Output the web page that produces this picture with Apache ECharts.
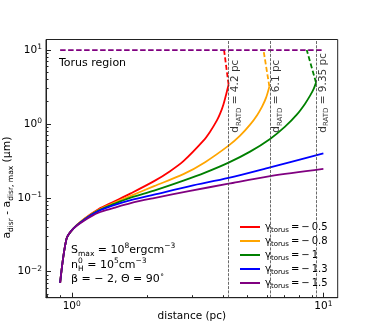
<!DOCTYPE html>
<html>
<head>
<meta charset="utf-8">
<script src="https://cdn.jsdelivr.net/npm/echarts@6/dist/echarts.min.js"></script>
<style>
html, body { margin: 0; padding: 0; background: #fff; }
#chart { width: 374px; height: 334px; }
</style>
</head>
<body>
<div id="chart"></div>
<script>
// values (distance in pc, grain size in micron)
const gammaValues = ['0.5', '0.8', '1', '1.3', '1.5'];
const lineColors = ['#ff0000', '#ffa500', '#008000', '#0000ff', '#800080'];

const redX = [0.899, 0.953, 1.012, 1.119, 1.276, 1.473, 1.716, 2.124, 2.459, 2.778, 3.336, 3.546, 3.770, 3.886, 4.004, 4.105, 4.2];
const redY = [0.00705, 0.0278, 0.0380, 0.0518, 0.0701, 0.0891, 0.1150, 0.1683, 0.2298, 0.3138, 0.5943, 0.7866, 1.108, 1.378, 1.825, 2.492, 3.40];
const orangeX = [0.899, 0.953, 1.012, 1.119, 1.276, 1.473, 1.716, 2.124, 2.778, 3.388, 4.2, 4.667, 5.113, 5.452, 5.706, 5.920, 6.1];
const orangeY = [0.00705, 0.0278, 0.0380, 0.0512, 0.0686, 0.0853, 0.1064, 0.1440, 0.2093, 0.3041, 0.5086, 0.6944, 0.978, 1.315, 1.714, 2.269, 3.20];
const greenX = [0.899, 0.953, 1.012, 1.119, 1.276, 1.473, 1.716, 2.124, 2.778, 3.388, 4.2, 5.113, 6.14, 7.042, 7.839, 8.458, 8.854, 9.141, 9.35];
const greenY = [0.00705, 0.0278, 0.0380, 0.0507, 0.0675, 0.0827, 0.1006, 0.1252, 0.1709, 0.2193, 0.2995, 0.4218, 0.6266, 0.9193, 1.336, 1.883, 2.415, 2.958, 3.622];
const blueX = [0.899, 0.953, 1.012, 1.119, 1.276, 1.473, 1.716, 2.124, 2.953, 4.2, 6.14, 10];
const blueY = [0.00705, 0.0278, 0.0380, 0.0502, 0.0661, 0.0796, 0.0931, 0.1105, 0.1442, 0.1859, 0.2587, 0.400];
const purpleX = [0.899, 0.953, 1.012, 1.119, 1.276, 1.473, 1.716, 2.124, 2.953, 4.2, 6.14, 10];
const purpleY = [0.00705, 0.0278, 0.0380, 0.0491, 0.0630, 0.0732, 0.0848, 0.0991, 0.1240, 0.1556, 0.1966, 0.246];

// dashed jumps up to the torus limit
const redDashX = [4.2, 4.03];
const redDashY = [3.40, 10];
const orangeDashX = [6.1, 5.78];
const orangeDashY = [3.20, 10];
const greenDashX = [9.35, 8.59];
const greenDashY = [3.622, 10];

const torusX = [0.899, 10];
const torusY = [10, 10];

const ratdDistances = [4.2, 6.1, 9.35];
const ratdLabelY = 0.76;

const xRange = [0.79, 11.4];
const yRange = [0.00445, 13.9];
const xMajorTicks = [1, 10];
const xMinorTicks = [0.8, 0.9, 2, 3, 4, 5, 6, 7, 8, 9];
const yMajorTicks = [0.01, 0.1, 1, 10];
const yMinorTicks = [0.005, 0.006, 0.007, 0.008, 0.009, 0.02, 0.03, 0.04, 0.05, 0.06, 0.07, 0.08, 0.09,
  0.2, 0.3, 0.4, 0.5, 0.6, 0.7, 0.8, 0.9, 2, 3, 4, 5, 6, 7, 8, 9];

const lg = Math.log10;
const FONT = 'DejaVu Sans';

function pairs(xs, ys) {
  return xs.map(function (x, i) { return [lg(x), lg(ys[i])]; });
}

function powLabel(v) {
  const e = Math.round(v);
  return '{b|10}{e|' + (e < 0 ? '\u2212' + (-e) : e) + '}';
}

const powRich = {
  b: { fontFamily: FONT, fontSize: 10.5, color: '#000', lineHeight: 14 },
  e: { fontFamily: FONT, fontSize: 7.5, color: '#000', lineHeight: 8, verticalAlign: 'top' }
};

const legendNames = gammaValues.map(function (g) { return 'gamma ' + g; });

const solidData = [
  pairs(redX, redY), pairs(orangeX, orangeY), pairs(greenX, greenY),
  pairs(blueX, blueY), pairs(purpleX, purpleY)
];

const series = [];
solidData.forEach(function (d, i) {
  series.push({
    type: 'line',
    name: legendNames[i],
    data: d,
    symbol: 'none',
    smooth: 0.3,
    color: lineColors[i],
    lineStyle: { width: 1.8, color: lineColors[i], join: 'round' },
    z: 3
  });
});

[[redDashX, redDashY, 0], [orangeDashX, orangeDashY, 1], [greenDashX, greenDashY, 2]].forEach(function (s) {
  series.push({
    type: 'line',
    data: pairs(s[0], s[1]),
    symbol: 'none',
    lineStyle: { width: 1.8, color: lineColors[s[2]], type: [5, 2.5] },
    z: 3
  });
});

series.push({
  type: 'line',
  data: pairs(torusX, torusY),
  symbol: 'none',
  lineStyle: { width: 1.8, color: lineColors[4], type: [5.5, 2.5] },
  z: 4
});

// d_RATD markers and their rotated labels
series.push({
  type: 'scatter',
  data: ratdDistances.map(function (d) { return [lg(d), lg(ratdLabelY)]; }),
  symbolSize: 0,
  silent: true,
  label: {
    show: true,
    position: 'right',
    distance: 7,
    rotate: 90,
    formatter: function (p) {
      return '{m|d}{s|RATD}{m| = ' + ratdDistances[p.dataIndex] + ' pc}';
    },
    rich: {
      m: { fontFamily: FONT, fontSize: 10.5, color: '#000', lineHeight: 14 },
      s: { fontFamily: FONT, fontSize: 7, color: '#000', lineHeight: 9, verticalAlign: 'bottom' }
    }
  },
  markLine: {
    silent: true,
    symbol: 'none',
    label: { show: false },
    lineStyle: { color: '#444', width: 0.8, type: [3, 1.3] },
    data: ratdDistances.map(function (d) { return { xAxis: lg(d) }; })
  }
});

const paramRich = {
  m: { fontFamily: FONT, fontSize: 11, fontWeight: 'normal', color: '#000', lineHeight: 16 },
  s: { fontFamily: FONT, fontSize: 7.5, fontWeight: 'normal', color: '#000', lineHeight: 10, verticalAlign: 'bottom' },
  p: { fontFamily: FONT, fontSize: 7.5, fontWeight: 'normal', color: '#000', lineHeight: 9, verticalAlign: 'top' },
  p0: { fontFamily: FONT, fontSize: 7.5, fontWeight: 'normal', color: '#000', lineHeight: 9, verticalAlign: 'top', width: 0.1, align: 'left' }
};

const option = {
  animation: false,
  backgroundColor: '#fff',
  title: [
    { text: 'Torus region', left: 59, top: 58, padding: 0,
      textStyle: { fontFamily: FONT, fontSize: 11, color: '#000', fontWeight: 'normal' } },
    { text: '{m|S}{s|max}{m| = 10}{p|8}{m|ergcm}{p|\u22123}', left: 71, top: 242, padding: 0,
      textStyle: { fontWeight: 'normal', rich: paramRich } },
    { text: '{m|n}{p0|0}{s|H}{m| = 10}{p|5}{m|cm}{p|\u22123}', left: 71, top: 257, padding: 0,
      textStyle: { fontWeight: 'normal', rich: paramRich } },
    { text: '{m|\u03b2 = \u2212 2, \u0398 = 90}{p|\u2218}', left: 71, top: 271.5, padding: 0,
      textStyle: { fontWeight: 'normal', rich: paramRich } }
  ],
  grid: {
    left: 46, right: 36.3, top: 39.5, bottom: 36.3,
    show: true, borderColor: '#222', borderWidth: 1,
    outerBoundsMode: 'none'
  },
  legend: {
    data: legendNames,
    orient: 'vertical',
    left: 240,
    top: 222,
    padding: 0,
    icon: 'rect',
    itemWidth: 20,
    itemHeight: 2,
    itemGap: 2,
    formatter: function (name) {
      return '{g|\u03b3}{s|torus}{g|\u2009=\u2009\u2212\u2009' + name.split(' ')[1] + '}';
    },
    textStyle: {
      rich: {
        g: { fontFamily: FONT, fontSize: 10, color: '#000', lineHeight: 14 },
        s: { fontFamily: FONT, fontSize: 7, color: '#000', lineHeight: 9, verticalAlign: 'bottom' }
      }
    }
  },
  xAxis: [
    {
      type: 'value',
      min: lg(xRange[0]),
      max: lg(xRange[1]),
      position: 'bottom',
      axisLine: { show: true, onZero: false, lineStyle: { color: '#222', width: 1 } },
      axisTick: { inside: true, length: 5, customValues: xMajorTicks.map(lg), lineStyle: { color: '#222' } },
      axisLabel: { customValues: xMajorTicks.map(lg), margin: 2, formatter: powLabel, rich: powRich },
      splitLine: { show: false },
      name: 'distance (pc)',
      nameLocation: 'middle',
      nameGap: 13,
      nameMoveOverlap: false,
      nameTextStyle: { fontFamily: FONT, fontSize: 10.5, color: '#000' }
    },
    {
      type: 'value',
      min: lg(xRange[0]),
      max: lg(xRange[1]),
      position: 'bottom',
      axisLine: { show: false, onZero: false },
      axisTick: { inside: true, length: 2.5, customValues: xMinorTicks.map(lg), lineStyle: { color: '#222' } },
      axisLabel: { show: false },
      splitLine: { show: false }
    }
  ],
  yAxis: [
    {
      type: 'value',
      min: lg(yRange[0]),
      max: lg(yRange[1]),
      position: 'left',
      axisLine: { show: true, onZero: false, lineStyle: { color: '#222', width: 1 } },
      axisTick: { inside: true, length: 5, customValues: yMajorTicks.map(lg), lineStyle: { color: '#222' } },
      axisLabel: { customValues: yMajorTicks.map(lg), margin: 4, formatter: powLabel, rich: powRich },
      splitLine: { show: false },
      name: '{a|a}{s|disr}{a| - a}{s|disr, max}{a| (\u03bcm)}',
      nameLocation: 'middle',
      nameGap: 31,
      nameMoveOverlap: false,
      nameTextStyle: {
        padding: [0, 38, 0, 0],
        rich: {
          a: { fontFamily: FONT, fontSize: 10.8, color: '#000', lineHeight: 16 },
          s: { fontFamily: FONT, fontSize: 7.5, color: '#000', lineHeight: 10, verticalAlign: 'bottom' }
        }
      }
    },
    {
      type: 'value',
      min: lg(yRange[0]),
      max: lg(yRange[1]),
      position: 'left',
      axisLine: { show: false, onZero: false },
      axisTick: { inside: true, length: 2.5, customValues: yMinorTicks.map(lg), lineStyle: { color: '#222' } },
      axisLabel: { show: false },
      splitLine: { show: false }
    }
  ],
  series: series
};

const chart = echarts.init(document.getElementById('chart'));
chart.setOption(option);
</script>
</body>
</html>
